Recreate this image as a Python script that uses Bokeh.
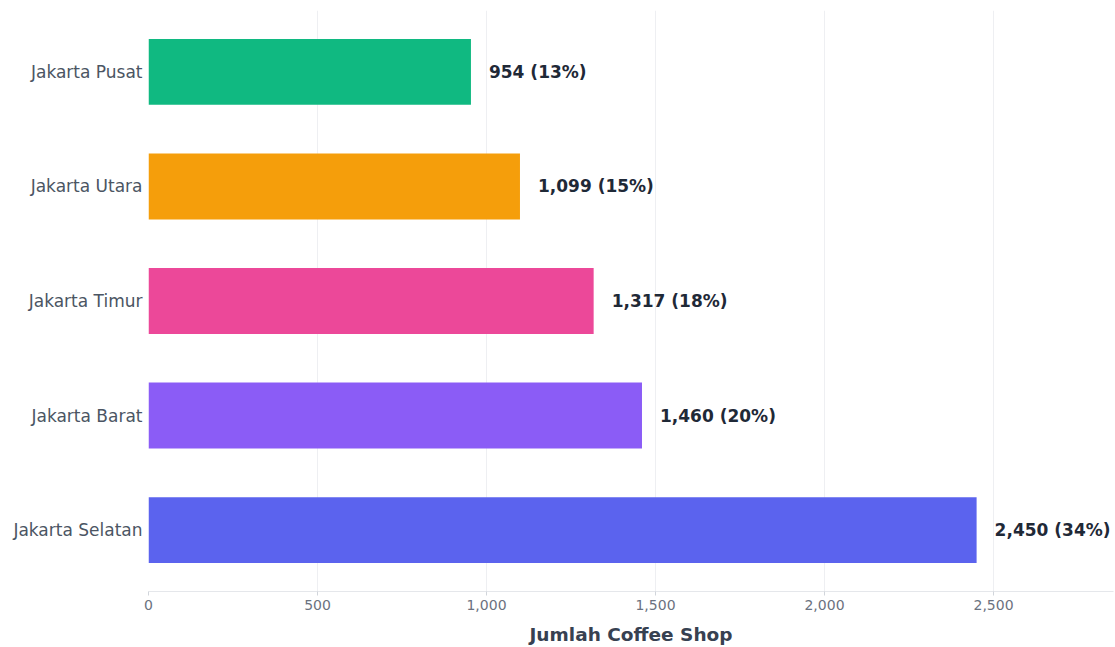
from bokeh.plotting import figure
from bokeh.models import ColumnDataSource, FactorRange, Range1d, NumeralTickFormatter, FixedTicker
from bokeh.embed import file_html
from bokeh.resources import INLINE
from bokeh.core.properties import value

regions = ["Jakarta Selatan", "Jakarta Barat", "Jakarta Timur", "Jakarta Utara", "Jakarta Pusat"]
counts = [2450, 1460, 1317, 1099, 954]
percents = [34, 20, 18, 15, 13]
colors = ["#5B63EE", "#8B5CF6", "#EC4899", "#F59E0B", "#10B981"]
x_ticks = [0, 500, 1000, 1500, 2000, 2500]

labels = [f"{c:,} ({p}%)" for c, p in zip(counts, percents)]
src = ColumnDataSource(dict(region=regions, count=counts, color=colors, label=labels))

p = figure(width=1115, height=647, y_range=FactorRange(*regions, range_padding=0.0144),
           x_range=Range1d(0, 2855), output_backend="svg", toolbar_location=None,
           min_border_left=148, min_border_right=2, min_border_top=10, min_border_bottom=0)
p.hbar(y="region", right="count", left=0, height=0.575, color="color", source=src, line_color=None)
p.text(x="count", y="region", text="label", source=src, x_offset=18,
       text_font=value("DejaVu Sans"), text_font_style="bold", text_font_size="17px",
       text_color="#1F2937", text_baseline="middle", text_align="left")

p.outline_line_color = None
p.ygrid.grid_line_color = None
p.xgrid.grid_line_color = "#EEEFF2"
p.xaxis.ticker = FixedTicker(ticks=x_ticks)
p.xaxis.formatter = NumeralTickFormatter(format="0,0")
p.xaxis.axis_label = "Jumlah Coffee Shop"
p.xaxis.axis_label_text_font = "DejaVu Sans"
p.xaxis.axis_label_text_font_style = "bold"
p.xaxis.axis_label_text_font_size = "18.5px"
p.xaxis.axis_label_text_color = "#374151"
p.xaxis.axis_label_standoff = 11
p.xaxis.major_label_text_font = "DejaVu Sans"
p.xaxis.major_label_text_font_size = "14px"
p.xaxis.major_label_text_color = "#6B7280"
p.xaxis.major_label_standoff = 4
p.xaxis.axis_line_color = "#E5E7EB"
p.xaxis.major_tick_line_color = "#D1D5DB"
p.xaxis.major_tick_out = 4
p.xaxis.major_tick_in = 0
p.xaxis.minor_tick_line_color = None
p.yaxis.axis_line_color = None
p.yaxis.major_tick_line_color = None
p.yaxis.minor_tick_line_color = None
p.yaxis.major_tick_out = 0
p.yaxis.major_tick_in = 0
p.yaxis.major_label_text_font = "DejaVu Sans"
p.yaxis.major_label_text_font_size = "17px"
p.yaxis.major_label_text_color = "#4B5563"
p.yaxis.major_label_standoff = 6

open("out.html", "w").write(file_html(p, INLINE))
